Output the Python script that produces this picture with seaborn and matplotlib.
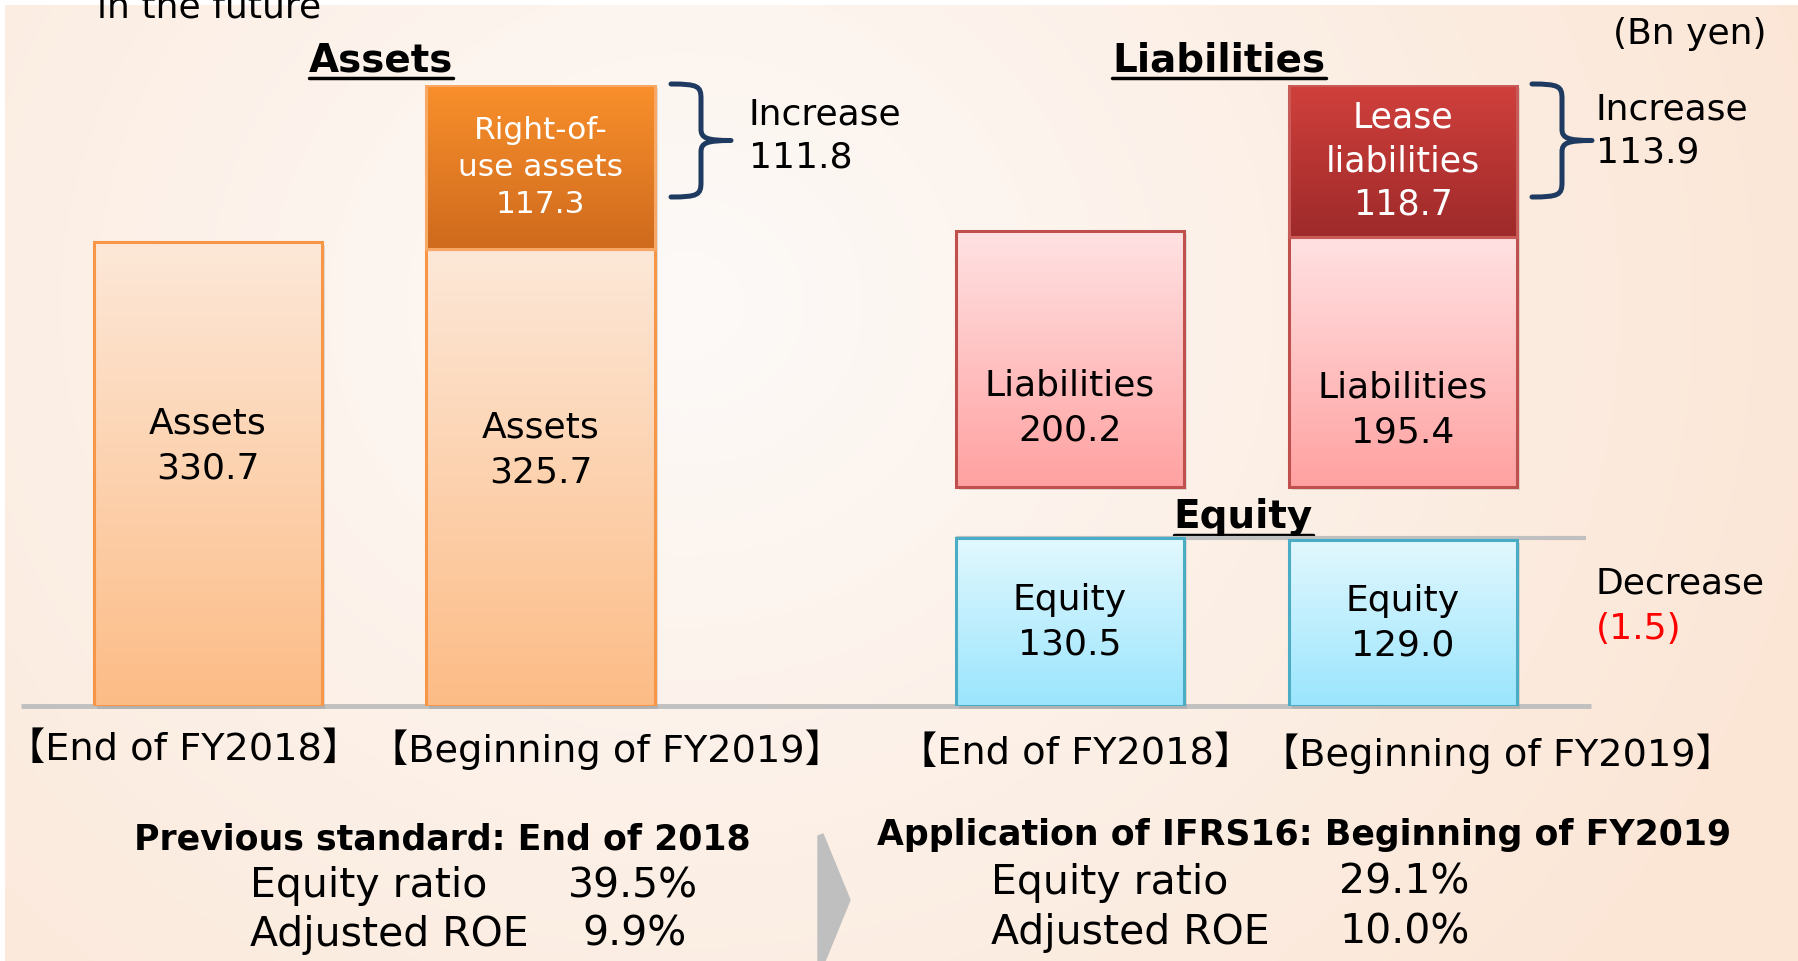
import matplotlib
matplotlib.use('Agg')
import matplotlib.pyplot as plt
import numpy as np
import pandas as pd
import seaborn as sns
from matplotlib.colors import to_rgb
from matplotlib.path import Path
from matplotlib.patches import PathPatch, Polygon, Rectangle
from matplotlib.transforms import offset_copy

# data (Bn yen)
periods = ['End of FY2018', 'Beginning of FY2019']
assets = [330.7, 325.7]
rou_period = ['Beginning of FY2019']
rou_assets = [117.3]
liabilities = [200.2, 195.4]
lease_period = ['Beginning of FY2019']
lease_liabilities = [118.7]
equity = [130.5, 129.0]
asset_increase = 111.8
liab_increase = 113.9
equity_change = '(1.5)'
ratio_names = ['Equity ratio', 'Adjusted ROE']
prev_ratios = ['39.5%', '9.9%']
ifrs_ratios = ['29.1%', '10.0%']

sns.set_theme(style='white')
plt.rcParams['font.family'] = ['DejaVu Sans', 'Noto Sans CJK JP']
plt.rcParams['text.color'] = 'black'

W, H = 1799, 961
fig = plt.figure(figsize=(W / 100, H / 100), dpi=100, facecolor='white')


def px_axes(left, top, width, height, z):
    return fig.add_axes([left / W, 1 - (top + height) / H, width / W, height / H], zorder=z)


# background in pixel coordinates
ax_bg = px_axes(0, 0, W, H, 0)
yy, xx = np.mgrid[0:H:4, 0:W:4]
d = np.hypot(xx - 680, (yy - 300) * 1.1)
t = np.clip(d / 1250, 0, 1)[..., None]
white = np.array([253, 250, 248]) / 255
peach = np.array([251, 229, 212]) / 255
ax_bg.imshow(white * (1 - t) + peach * t, extent=(5, W, H, 5), aspect='auto', zorder=0)
ax_bg.set_xlim(0, W)
ax_bg.set_ylim(H, 0)
ax_bg.axis('off')


def gradient_fill(ax, patches, top, bottom):
    g = np.linspace(0, 1, 256)[:, None, None]
    img = np.array(to_rgb(top)) * (1 - g) + np.array(to_rgb(bottom)) * g
    shadow_tr = offset_copy(ax.transData, fig=fig, x=3, y=-3, units='dots')
    for p in patches:
        x0, y0, w, h = p.get_x(), p.get_y(), p.get_width(), p.get_height()
        ax.add_patch(Rectangle((x0, y0), w, h, transform=shadow_tr, facecolor='#7f7f7f',
                               edgecolor='none', alpha=0.22, zorder=0.8, clip_on=False))
        im = ax.imshow(img, extent=(x0, x0 + w, y0, y0 + h), origin='upper',
                       aspect='auto', zorder=0.9)
        im.set_clip_path(p)
        p.set_facecolor('none')


def bars(ax, x, y, top, bottom_col, edge, base=None):
    n = len(ax.patches)
    kw = {} if base is None else {'bottom': base}
    sns.barplot(x=x, y=y, order=periods, width=0.686, color=top, saturation=1,
                edgecolor=edge, linewidth=2.2, errorbar=None, ax=ax, **kw)
    gradient_fill(ax, ax.patches[n:n + len(x)], top, bottom_col)


# ---- Assets panel
ax_l = px_axes(41.75, 85, 665, 620.6, 2)
ax_l.patch.set_alpha(0)
bars(ax_l, periods, assets, '#fde8d8', '#fcbc86', '#f79646')
bars(ax_l, rou_period, rou_assets, '#f9902c', '#cf6a1d', '#f8a765', base=[assets[1]])
ax_l.set_xlim(-0.5, 1.5)
ax_l.set_ylim(0, assets[1] + rou_assets[0])
ax_l.hlines(0, -0.562, 4.159, color='#c0c0c0', lw=3.5, clip_on=False, zorder=0.5)
for i, v in enumerate(assets):
    ax_l.text(i, v * 0.56, f'Assets\n{v:.1f}', ha='center', va='center', fontsize=26, linespacing=1.4)
ax_l.text(1, assets[1] + rou_assets[0] / 2, f'Right-of-\nuse assets\n{rou_assets[0]:.1f}',
          ha='center', va='center', fontsize=22.5, color='white', linespacing=1.35)
ax_l.set_axis_off()

# ---- Liabilities / equity panel
gap = 40
liab_base = max(equity) + gap
ax_r = px_axes(903.5, 85, 666, 620.6, 2)
ax_r.patch.set_alpha(0)
bars(ax_r, periods, equity, '#e2f8fe', '#9ae5fd', '#4bacc6')
bars(ax_r, periods, liabilities, '#ffe2e3', '#ffa1a1', '#c0504d', base=liab_base)
bars(ax_r, lease_period, lease_liabilities, '#d0403c', '#9e2a2a', '#c85a57',
     base=[liab_base + liabilities[1]])
ax_r.set_xlim(-0.5, 1.5)
ax_r.set_ylim(0, liab_base + liabilities[1] + lease_liabilities[0])
ax_r.hlines(equity[0], -0.343, 1.55, color='#c0c0c0', lw=3, clip_on=False, zorder=0.5)
for i, v in enumerate(liabilities):
    ax_r.text(i, liab_base + v * 0.31, f'Liabilities\n{v:.1f}', ha='center', va='center',
              fontsize=26, linespacing=1.4)
for i, v in enumerate(equity):
    ax_r.text(i, v * 0.5, f'Equity\n{v:.1f}', ha='center', va='center', fontsize=26, linespacing=1.4)
ax_r.text(1, liab_base + liabilities[1] + lease_liabilities[0] / 2,
          f'Lease\nliabilities\n{lease_liabilities[0]:.1f}',
          ha='center', va='center', fontsize=25, color='white', linespacing=1.35)
eq_head = ax_r.annotate('Equity', (0.52, equity[0]), xytext=(0, 2), textcoords='offset points',
                        ha='center', va='bottom', fontsize=28, fontweight='bold')
ax_r.set_axis_off()


# ---- braces and annotations
def brace(x, yt, yb, w=60, color='#1f3a60'):
    h = yb - yt
    ym = (yt + yb) / 2
    xm = x + 0.5 * w
    verts = [(x, yt), (x + 0.45 * w, yt), (xm, yt + 0.02 * h), (xm, yt + 0.13 * h),
             (xm, ym - 0.1 * h),
             (xm, ym - 0.02 * h), (x + 0.6 * w, ym), (x + w, ym),
             (x + 0.6 * w, ym), (xm, ym + 0.02 * h), (xm, ym + 0.1 * h),
             (xm, yb - 0.13 * h),
             (xm, yb - 0.02 * h), (x + 0.45 * w, yb), (x, yb)]
    codes = [Path.MOVETO, Path.CURVE4, Path.CURVE4, Path.CURVE4, Path.LINETO,
             Path.CURVE4, Path.CURVE4, Path.CURVE4,
             Path.CURVE4, Path.CURVE4, Path.CURVE4, Path.LINETO,
             Path.CURVE4, Path.CURVE4, Path.CURVE4]
    ax_bg.add_patch(PathPatch(Path(verts, codes), fill=False, edgecolor=color, lw=3.6,
                              capstyle='round', joinstyle='round', zorder=3))


brace(671, 84, 197)
brace(1532, 84, 197)
ax_bg.text(749, 136, f'Increase\n{asset_increase:.1f}', ha='left', va='center', fontsize=26, linespacing=1.35)
ax_bg.text(1596, 131, f'Increase\n{liab_increase:.1f}', ha='left', va='center', fontsize=26, linespacing=1.35)
ax_bg.text(1596, 583, 'Decrease', ha='left', va='center', fontsize=26)
ax_bg.text(1596, 629, equity_change, ha='left', va='center', fontsize=26, color='#ff0000')
ax_bg.text(1690, 34, '(Bn yen)', ha='center', va='center', fontsize=26)
ax_bg.text(97, 17, 'in the future', ha='left', va='baseline', fontsize=26)

headings = [ax_bg.text(381, 60, 'Assets', ha='center', va='center', fontsize=28, fontweight='bold'),
            ax_bg.text(1219, 60, 'Liabilities', ha='center', va='center', fontsize=28, fontweight='bold'),
            eq_head]

# period labels
for x, y, s in [(184, 750, periods[0]), (606, 750, periods[1]),
                (1076, 754, periods[0]), (1497, 754, periods[1])]:
    ax_bg.text(x, y, f'【{s}】', ha='center', va='center', fontsize=27.5)

# ratio summary
ax_bg.text(442, 840, 'Previous standard: End of 2018', ha='center', va='center',
           fontsize=25, fontweight='bold')
ax_bg.text(1304, 835, 'Application of IFRS16: Beginning of FY2019', ha='center', va='center',
           fontsize=25, fontweight='bold')
for name, prev, new, yl, yr, xp in zip(ratio_names, prev_ratios, ifrs_ratios,
                                       [886, 935], [883, 933], [568, 582]):
    ax_bg.text(250, yl, name, ha='left', va='center', fontsize=29.5)
    ax_bg.text(xp, yl, prev, ha='left', va='center', fontsize=29.5)
    ax_bg.text(991, yr, name, ha='left', va='center', fontsize=29.5)
    ax_bg.text(1339, yr, new, ha='left', va='center', fontsize=29.5)

ax_bg.add_patch(Polygon([(818, 836), (823, 834), (850, 900), (823, 966), (818, 966)],
                        closed=True, color='#bfbfbf', zorder=2))

# underline headings
fig.canvas.draw()
inv = ax_bg.transData.inverted()
for t in headings:
    bb = t.get_window_extent()
    (x0, y0), (x1, y1) = inv.transform([[bb.x0, bb.y0], [bb.x1, bb.y1]])
    ax_bg.plot([x0, x1], [y0 - 1, y0 - 1], color='black', lw=2.5, zorder=3)

fig.savefig('out.png', dpi=100)
